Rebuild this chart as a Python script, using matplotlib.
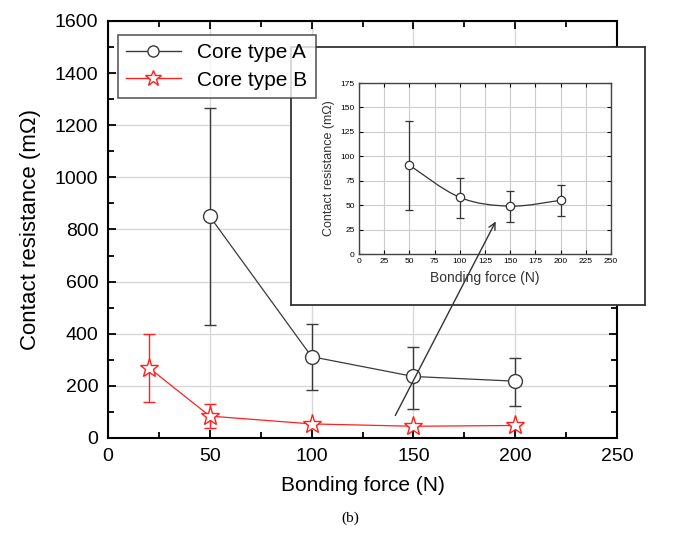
import matplotlib.pyplot as plt
from matplotlib.path import Path
from matplotlib.patches import PathPatch, FancyArrowPatch
from matplotlib.lines import Line2D
import numpy as np

plt.rcParams['font.family'] = ['Liberation Sans', 'DejaVu Sans']

# main chart data
force_a = [50, 100, 150, 200]
res_a = [850, 312, 236, 218]
err_a_lo = [435, 183, 112, 124]
err_a_hi = [1266, 436, 350, 308]

force_b = [20, 50, 100, 150, 200]
res_b = [270, 84, 54, 45, 48]
err_b_lo = [138, 38, 54, 45, 48]
err_b_hi = [400, 131, 54, 45, 48]

# inset data (core type B, zoomed)
ins_force = [50, 100, 150, 200]
ins_res = [91, 58, 49, 55]
ins_lo = [45, 37, 33, 39]
ins_hi = [136, 78, 64, 71]

fig = plt.figure(figsize=(6.95, 5.34), dpi=100)
ax = fig.add_axes([0.1554, 0.1798, 0.7324, 0.7809])

gray = '#3a3a3a'
red = '#ff2020'

ya = np.array(res_a)
ax.errorbar(force_a, res_a,
            yerr=[ya - np.array(err_a_lo), np.array(err_a_hi) - ya],
            color=gray, lw=0.9, marker='o', ms=10, mfc='white', mec=gray,
            mew=1.0, capsize=4, elinewidth=1.0, capthick=1.0, zorder=3)
yb = np.array(res_b)
ax.errorbar(force_b, res_b,
            yerr=[yb - np.array(err_b_lo), np.array(err_b_hi) - yb],
            color=red, lw=0.9, marker='*', ms=14, mfc='white', mec=red,
            mew=1.0, capsize=4, elinewidth=1.0, capthick=1.0, zorder=3)

ax.set_xlim(0, 250)
ax.set_ylim(0, 1600)
ax.set_xticks([0, 50, 100, 150, 200, 250])
ax.set_yticks(range(0, 1601, 200))
ax.set_xticks(range(0, 251, 25), minor=True)
ax.set_yticks(range(0, 1601, 100), minor=True)
ax.grid(True, color='#d8d8d8', lw=1.0, zorder=0)
ax.tick_params(which='both', direction='in', top=True, right=True, width=1.3)
ax.tick_params(which='major', length=6, labelsize=14, pad=7)
ax.tick_params(which='minor', length=4)
for s in ax.spines.values():
    s.set_linewidth(1.5)
ax.set_xlabel('Bonding force (N)', fontsize=15, labelpad=8)
ax.set_ylabel('Contact resistance (m\u03a9)', fontsize=16, labelpad=10)

# inset frame
frame = fig.add_axes([0.4187, 0.4288, 0.5094, 0.4831])
frame.set_xticks([])
frame.set_yticks([])
frame.patch.set_facecolor('white')
for s in frame.spines.values():
    s.set_linewidth(1.3)
    s.set_color('#333333')

ins = fig.add_axes([0.5165, 0.5243, 0.3626, 0.3202])
yi = np.array(ins_res)
ins.errorbar(ins_force, ins_res,
             yerr=[yi - np.array(ins_lo), np.array(ins_hi) - yi],
             fmt='none', ecolor='#333333', elinewidth=0.9, capsize=3,
             capthick=0.9, zorder=3)
# smooth connecting curve (Catmull-Rom as cubic beziers)
pts = np.column_stack([ins_force, ins_res]).astype(float)
verts = [pts[0]]
codes = [Path.MOVETO]
for i in range(len(pts) - 1):
    p0 = pts[i - 1] if i > 0 else pts[i]
    p1, p2 = pts[i], pts[i + 1]
    p3 = pts[i + 2] if i + 2 < len(pts) else pts[i + 1]
    verts += [p1 + (p2 - p0) / 6, p2 - (p3 - p1) / 6, p2]
    codes += [Path.CURVE4] * 3
ins.add_patch(PathPatch(Path(verts, codes), fill=False, ec='#333333',
                        lw=0.9, zorder=2))
ins.plot(ins_force, ins_res, 'o', ms=6, mfc='white', mec='#333333',
         mew=0.9, zorder=4)
ins.set_xlim(0, 250)
ins.set_ylim(0, 175)
ins.set_xticks(range(0, 251, 25))
ins.set_yticks(range(0, 176, 25))
ins.grid(True, color='#cccccc', lw=0.8, zorder=0)
ins.tick_params(direction='in', labelsize=6, length=3, width=0.8,
                top=True, right=True, pad=3)
for s in ins.spines.values():
    s.set_linewidth(1.0)
    s.set_color('#444444')
ins.set_xlabel('Bonding force (N)', fontsize=10, color='#333333', labelpad=4)
ins.set_ylabel('Contact resistance (m\u03a9)', fontsize=9, color='#333333',
               labelpad=4)

# legend on top of everything
handles = [
    Line2D([], [], color=gray, lw=1.0, marker='o', ms=8, mfc='white',
           mec=gray, label='Core type A'),
    Line2D([], [], color=red, lw=1.0, marker='*', ms=12, mfc='white',
           mec=red, label='Core type B'),
]
leg = fig.legend(handles=handles, loc='upper left',
                 bbox_to_anchor=(118 / 695, 1 - 35 / 534), fontsize=15,
                 handlelength=2.6, frameon=True, fancybox=False,
                 edgecolor='#333333', borderpad=0.4, labelspacing=0.4,
                 handletextpad=0.8, borderaxespad=0)
leg.get_frame().set_linewidth(1.2)
leg.set_zorder(10)

# arrow from main curve to inset
arr = FancyArrowPatch((394 / 695, 1 - 418 / 534), (497 / 695, 1 - 219 / 534),
                      transform=fig.transFigure, arrowstyle='->',
                      color='#333333', lw=1.0, mutation_scale=12)
arr.set_zorder(10)
fig.add_artist(arr)

fig.text(0.504, 0.03, '(b)', ha='center', va='center', fontsize=11,
         family=['Liberation Serif', 'DejaVu Serif'])

fig.savefig('out.png', dpi=100)
